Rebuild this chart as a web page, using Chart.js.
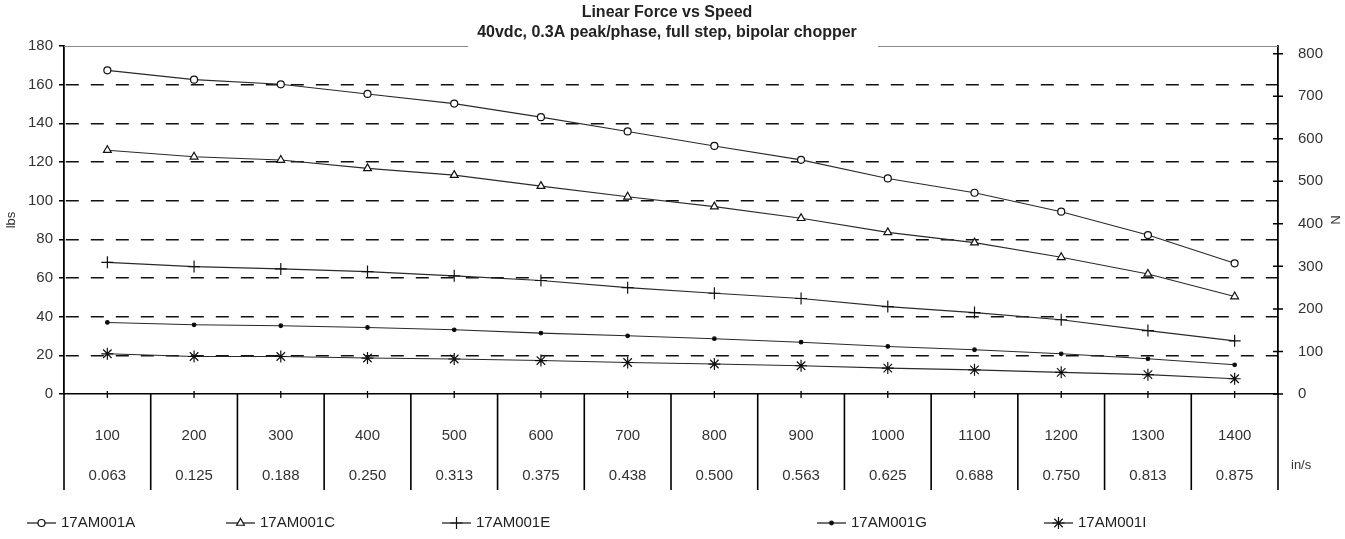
<!DOCTYPE html>
<html>
<head>
<meta charset="utf-8">
<script src="https://cdn.jsdelivr.net/npm/chart.js@4.4.0/dist/chart.umd.min.js"></script>
<style>
  html, body { margin: 0; padding: 0; background: #fff; }
  #wrap { width: 1345px; height: 539px; position: relative; }
</style>
</head>
<body>
<div id="wrap"><canvas id="forceChart"></canvas></div>
<script>
// --- data ---
const speedRpm = ['100', '200', '300', '400', '500', '600', '700', '800', '900', '1000', '1100', '1200', '1300', '1400'];
const speedIn = ['0.063', '0.125', '0.188', '0.250', '0.313', '0.375', '0.438', '0.500', '0.563', '0.625', '0.688', '0.750', '0.813', '0.875'];
const seriesNames = ['17AM001A', '17AM001C', '17AM001E', '17AM001G', '17AM001I'];
const force001A = [167.4, 162.6, 160.2, 155.2, 150.2, 143.2, 135.8, 128.3, 121.1, 111.5, 104.1, 94.3, 82.2, 67.6];
const force001C = [126.1, 122.7, 121.0, 116.7, 113.2, 107.5, 102.0, 96.9, 90.9, 83.6, 78.3, 70.7, 62.1, 50.4];
const force001E = [68.1, 65.9, 64.7, 63.3, 61.1, 58.7, 55.0, 52.1, 49.4, 45.2, 42.1, 38.4, 32.8, 27.5];
const force001G = [37.0, 35.8, 35.3, 34.4, 33.2, 31.5, 30.1, 28.6, 26.8, 24.6, 22.9, 20.8, 18.2, 15.1];
const force001I = [20.8, 19.4, 19.4, 18.6, 18.1, 17.3, 16.3, 15.5, 14.6, 13.4, 12.5, 11.2, 10.0, 7.9];
const newtonTicks = [0, 100, 200, 300, 400, 500, 600, 700, 800];
const titleLines = ['Linear Force vs Speed', '40vdc, 0.3A peak/phase, full step, bipolar chopper'];

const FONT = "'Liberation Sans', Arial, sans-serif";
const INK = '#222';

// marker look per series
const markers = [
    { pointStyle: 'circle', radius: 3.5, fill: '#fff' },
    { pointStyle: 'triangle', radius: 4.5, fill: '#fff' },
    { pointStyle: 'cross', radius: 6, fill: '#000' },
    { pointStyle: 'circle', radius: 1.8, fill: '#000' },
    { pointStyle: 'star', radius: 6, fill: '#000' }
];
const allSeries = [force001A, force001C, force001E, force001G, force001I];

const datasets = allSeries.map((values, i) => ({
    label: seriesNames[i],
    data: values,
    yAxisID: 'y',
    borderColor: '#2a2a2a',
    borderWidth: 1.1,
    tension: 0,
    fill: false,
    pointStyle: markers[i].pointStyle,
    pointRadius: markers[i].radius,
    pointBackgroundColor: markers[i].fill,
    pointBorderColor: '#111',
    pointBorderWidth: 1.2
}));

// --- extra drawing: title, table dividers, crossing ticks, legend ---
const legendSlots = [27, 226, 442, 817, 1044];

function drawMarker(ctx, m, x, y) {
    ctx.save();
    ctx.fillStyle = m.fill;
    ctx.strokeStyle = '#111';
    ctx.lineWidth = 1.2;
    Chart.helpers.drawPoint(ctx, { pointStyle: m.pointStyle, radius: m.radius, rotation: 0, borderWidth: 1.2 }, x, y);
    ctx.restore();
}

const decorPlugin = {
    id: 'decor',
    afterDraw(chart) {
        const { ctx, chartArea } = chart;
        const xs = chart.scales.x;
        const yr = chart.scales.y1;
        ctx.save();

        // top border, broken by the title
        ctx.strokeStyle = '#888';
        ctx.lineWidth = 1;
        ctx.beginPath();
        ctx.moveTo(chartArea.left, chartArea.top + 0.5);
        ctx.lineTo(468, chartArea.top + 0.5);
        ctx.moveTo(878, chartArea.top + 0.5);
        ctx.lineTo(chartArea.right, chartArea.top + 0.5);
        ctx.stroke();

        // title
        ctx.fillStyle = INK;
        ctx.textAlign = 'center';
        ctx.textBaseline = 'middle';
        ctx.font = 'bold 16px ' + FONT;
        ctx.fillText(titleLines[0], 667, 13);
        ctx.fillText(titleLines[1], 667, 33);

        // table dividers under the x axis
        ctx.strokeStyle = '#000';
        ctx.lineWidth = 1.6;
        const n = speedRpm.length;
        const bottom = 490;
        ctx.beginPath();
        for (let i = 0; i <= n; i++) {
            let x;
            if (i === 0) x = chartArea.left;
            else if (i === n) x = chartArea.right;
            else x = (xs.getPixelForValue(i - 1) + xs.getPixelForValue(i)) / 2;
            ctx.moveTo(x, xs.top);
            ctx.lineTo(x, bottom);
        }
        ctx.stroke();

        // small ticks at category centres
        ctx.lineWidth = 1.3;
        ctx.beginPath();
        for (let i = 0; i < n; i++) {
            const x = xs.getPixelForValue(i);
            ctx.moveTo(x, xs.top - 3);
            ctx.lineTo(x, xs.top + 4);
        }
        ctx.stroke();

        // right axis ticks crossing the axis
        ctx.lineWidth = 1.5;
        ctx.beginPath();
        yr.ticks.forEach(t => {
            const y = yr.getPixelForValue(t.value);
            ctx.moveTo(chartArea.right - 5, y);
            ctx.lineTo(chartArea.right + 5, y);
        });
        ctx.stroke();

        // unit label of the speed row
        ctx.fillStyle = '#333';
        ctx.font = '13px ' + FONT;
        ctx.textAlign = 'left';
        ctx.fillText('in/s', 1291, 465);

        // legend
        const ly = 523;
        ctx.font = '15px ' + FONT;
        ctx.textAlign = 'left';
        ctx.textBaseline = 'middle';
        seriesNames.forEach((name, i) => {
            const x0 = legendSlots[i];
            ctx.strokeStyle = '#111';
            ctx.lineWidth = 1.2;
            ctx.beginPath();
            ctx.moveTo(x0, ly);
            ctx.lineTo(x0 + 29, ly);
            ctx.stroke();
            drawMarker(ctx, markers[i], x0 + 14.5, ly);
            ctx.fillStyle = INK;
            ctx.fillText(name, x0 + 34, ly);
        });
        ctx.restore();
    }
};

new Chart(document.getElementById('forceChart'), {
    type: 'line',
    data: { labels: speedRpm, datasets: datasets },
    options: {
        responsive: true,
        maintainAspectRatio: false,
        animation: false,
        layout: { padding: { top: 46, left: 0, right: 0, bottom: 0 } },
        plugins: {
            legend: { display: false },
            title: { display: false },
            tooltip: { enabled: false }
        },
        scales: {
            x: {
                type: 'category',
                offset: true,
                grid: { display: false },
                border: { color: '#000', width: 1.6 },
                ticks: {
                    autoSkip: false,
                    maxRotation: 0,
                    padding: 14,
                    color: '#333',
                    font: { family: FONT, size: 15, lineHeight: '40px' },
                    callback: (v, i) => [speedRpm[i], speedIn[i]]
                },
                afterFit: s => { s.height = 145; }
            },
            y: {
                position: 'left',
                min: 0,
                max: 180,
                ticks: { stepSize: 20, padding: 6, color: '#333', font: { family: FONT, size: 15 } },
                grid: {
                    color: c => (c.tick && (c.tick.value === 0 || c.tick.value === 180)) ? 'rgba(0,0,0,0)' : '#111',
                    lineWidth: 1.5,
                    tickLength: 5,
                    tickColor: '#000',
                    tickWidth: 1.5
                },
                border: { color: '#000', width: 1.8, dash: [13, 12], dashOffset: -26 },
                title: { display: true, text: 'lbs', color: '#333', font: { family: FONT, size: 13 }, padding: 4 },
                afterFit: s => { s.width = 64; }
            },
            y1: {
                position: 'right',
                min: 0,
                max: 818,
                grid: { display: false },
                border: { color: '#000', width: 1.8 },
                ticks: { stepSize: 100, includeBounds: false, padding: 12, color: '#333', font: { family: FONT, size: 15 } },
                afterBuildTicks: s => { s.ticks = newtonTicks.map(v => ({ value: v })); },
                title: { display: true, text: 'N', color: '#333', font: { family: FONT, size: 13 }, padding: 3 },
                afterFit: s => { s.width = 67; }
            }
        }
    },
    plugins: [decorPlugin]
});
</script>
</body>
</html>
